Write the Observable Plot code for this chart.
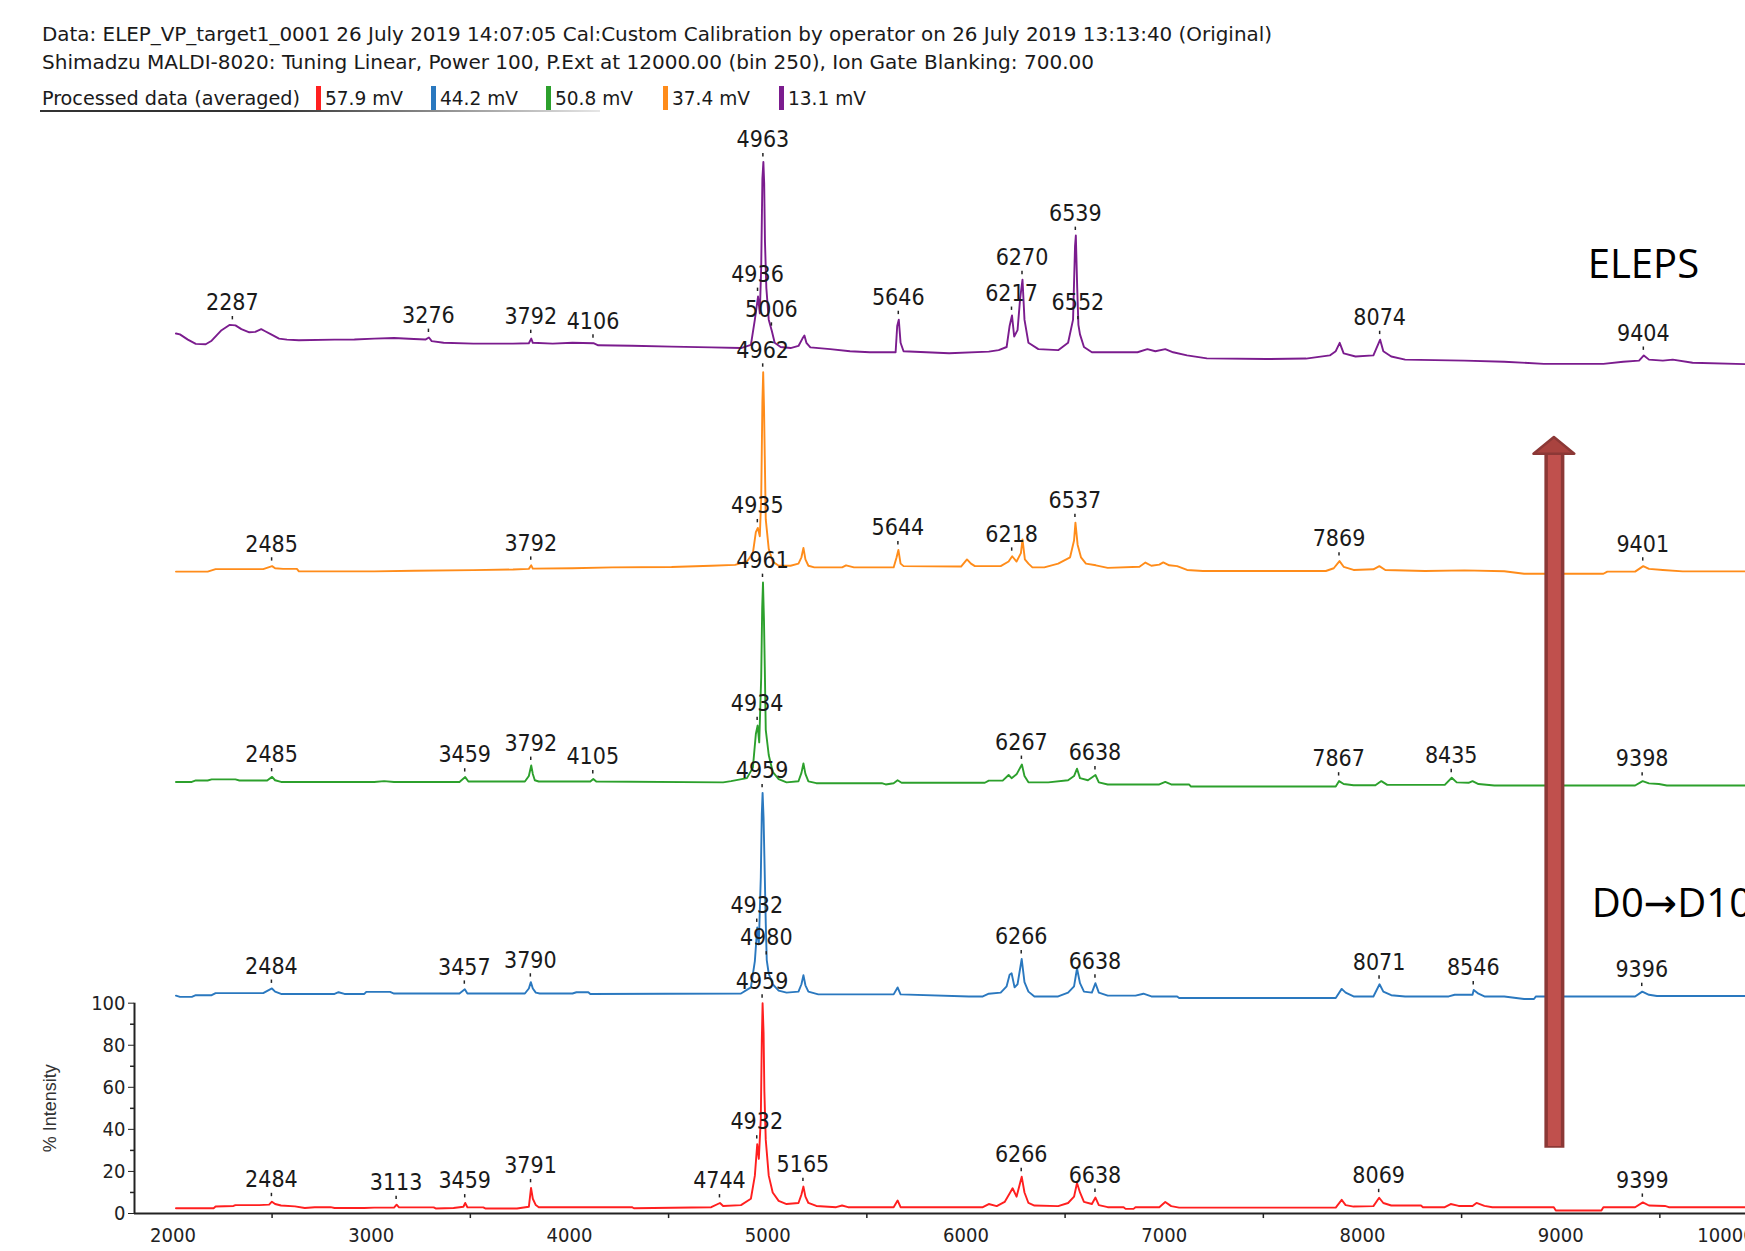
<!DOCTYPE html>
<html><head><meta charset="utf-8">
<script src="https://cdn.jsdelivr.net/npm/d3@7"></script>
<script src="https://cdn.jsdelivr.net/npm/@observablehq/plot@0.6"></script>
<style>
html,body{margin:0;padding:0;background:#fff;}
#wrap{width:1745px;height:1251px;overflow:hidden;position:relative;background:#fff;}
#hdr{position:relative;width:1745px;height:112px;font-family:"DejaVu Sans Condensed","Liberation Sans Narrow","DejaVu Sans",sans-serif;color:#1a1a1a;}
.t{position:absolute;font-size:20px;line-height:24px;white-space:nowrap;transform-origin:0 50%;}
.bar{position:absolute;width:5px;height:24px;top:86px;}
#uline{position:absolute;left:40px;top:110px;width:560px;height:2px;background:linear-gradient(to right,#333 0%,#333 42%,#e6e6e6 100%);}
#chart svg{display:block;overflow:hidden;}
</style></head>
<body><div id="wrap">
<div id="hdr"></div>
<div id="chart"></div>
</div>
<script>
// ---- header texts ----
const titleLine1 = "Data: ELEP_VP_target1_0001 26 July 2019 14:07:05 Cal:Custom Calibration  by operator on 26 July 2019 13:13:40 (Original)";
const titleLine2 = "Shimadzu MALDI-8020: Tuning Linear, Power 100, P.Ext at 12000.00 (bin 250), Ion Gate Blanking: 700.00";
const legendTitle = "Processed data (averaged)";

// ---- series ----
const seriesNames = ["57.9 mV", "44.2 mV", "50.8 mV", "37.4 mV", "13.1 mV"];
const seriesColors = ["#ff1f1f", "#2a78bf", "#2ca02c", "#ff8c1a", "#7b1c8e"];
const offsets = [0, 100, 200, 300, 400];

// ---- axis ticks ----
const xTicks = [2000, 3000, 4000, 5000, 6000, 7000, 8000, 9000];
const xLastTick = [10000];
const xMinorTicks = [2500, 3500, 4500, 5500, 6500, 7500, 8500, 9500];
const yTicks = [0, 20, 40, 60, 80, 100];
const yMinorTicks = [10, 30, 50, 70, 90];

// ---- spectra [m/z, % intensity] ----
const specRed = [[2000,2.5],[2190,2.5],[2200,3.3],[2290,3.6],[2300,4.0],[2420,4.0],[2470,4.2],[2484,5.6],[2500,4.5],[2530,3.8],[2600,3.4],[2650,2.6],[2700,3.0],[2780,3.0],[2800,2.6],[2950,2.6],[3000,2.8],[3100,2.8],[3113,4.2],[3125,2.9],[3300,2.9],[3310,2.4],[3400,2.6],[3450,3.2],[3459,5.0],[3470,3.0],[3550,2.9],[3560,2.4],[3720,2.4],[3780,3.2],[3791,12.2],[3800,7.0],[3815,4.0],[3830,3.0],[4000,3.0],[4300,3.0],[4310,2.5],[4700,3.0],[4744,5.0],[4760,3.6],[4850,4.0],[4900,7.0],[4920,18],[4932,33],[4940,26],[4950,45],[4955,82],[4959,100],[4964,86],[4968,58],[4975,35],[4990,18],[5010,10],[5040,6],[5080,4.5],[5140,5.0],[5155,9.0],[5165,12.8],[5175,8.0],[5190,5.0],[5230,3.6],[5330,3.0],[5360,3.8],[5390,3.0],[5620,3.0],[5640,6.2],[5655,3.0],[6070,3.0],[6100,4.5],[6140,3.5],[6180,5.5],[6205,9.5],[6220,12],[6240,8],[6266,17.5],[6280,10],[6300,5],[6330,3.8],[6450,3.5],[6500,5],[6530,8],[6545,14.5],[6560,10],[6580,5.5],[6620,4.5],[6638,7.6],[6655,4.0],[6700,3.0],[6780,3.0],[6790,2.2],[6830,2.2],[6840,3.0],[6960,3.0],[6990,5.5],[7020,3.5],[7060,2.8],[7850,2.8],[7880,6.5],[7900,4.0],[7940,3.3],[8040,3.5],[8069,7.5],[8090,5.0],[8130,3.8],[8280,3.8],[8290,3.0],[8400,3.0],[8430,4.5],[8470,3.6],[8540,3.6],[8560,5.0],[8600,3.6],[8640,3.0],[8950,3.0],[8960,1.4],[9190,1.4],[9200,3.0],[9360,3.0],[9399,5.3],[9430,3.8],[9510,3.6],[9530,3.0],[9932,3.0]];
const specBlue = [[2000,3.6],[2020,3.0],[2080,3.0],[2100,3.8],[2180,3.8],[2200,4.8],[2440,4.8],[2484,7.0],[2500,5.5],[2530,4.4],[2800,4.4],[2820,5.2],[2850,4.4],[2950,4.4],[2960,5.4],[3080,5.4],[3100,4.6],[3430,4.6],[3457,6.6],[3470,4.6],[3760,4.6],[3780,7.0],[3790,10],[3800,7.0],[3815,5.0],[3835,4.6],[4000,4.6],[4020,5.2],[4080,5.2],[4090,4.4],[4850,4.6],[4900,7.5],[4920,20],[4932,36],[4940,28],[4950,60],[4955,90],[4959,100],[4964,88],[4968,70],[4975,38],[4980,20.5],[4990,14],[5010,9],[5040,6],[5080,5],[5140,5.5],[5155,9],[5165,13.3],[5175,8.5],[5190,5.5],[5240,4.2],[5620,4.2],[5640,7.5],[5655,4.2],[6000,3.2],[6070,3.2],[6100,4.5],[6160,5.0],[6190,8.0],[6205,13.5],[6215,14.2],[6230,7.5],[6245,9.0],[6266,21],[6280,10],[6300,5.5],[6330,3.2],[6450,3.2],[6500,5.0],[6530,8.0],[6545,16.5],[6560,9.5],[6580,5.5],[6620,5.0],[6638,9.5],[6655,5.0],[6700,3.6],[6840,3.6],[6880,4.5],[6920,3.2],[7050,3.2],[7060,2.5],[7850,2.5],[7880,6.8],[7900,5.0],[7940,3.2],[8040,3.2],[8071,9.0],[8090,5.5],[8130,3.8],[8200,3.2],[8420,3.2],[8450,4.0],[8540,4.0],[8546,6.3],[8570,4.5],[8600,3.2],[8700,3.2],[8800,2.0],[8850,2.0],[8860,3.2],[9360,3.2],[9396,5.5],[9430,4.0],[9470,3.4],[9932,3.4]];
const specGreen = [[2000,5.2],[2080,5.2],[2100,5.9],[2160,5.9],[2180,6.4],[2300,6.4],[2320,5.9],[2460,5.9],[2485,7.6],[2500,6.0],[2530,5.2],[3000,5.2],[3050,5.6],[3100,5.2],[3430,5.2],[3459,7.5],[3475,5.4],[3760,5.4],[3780,8.0],[3792,13],[3800,9.0],[3810,6.0],[3830,5.4],[4090,5.4],[4105,6.6],[4120,5.4],[4760,5.0],[4800,5.6],[4880,7.0],[4910,12],[4925,28],[4934,32],[4942,24],[4952,55],[4957,88],[4961,100],[4966,82],[4970,60],[4975,30],[4990,18],[5010,10],[5040,6.5],[5080,5.0],[5140,5.5],[5155,9.5],[5165,14],[5175,9.0],[5190,5.5],[5230,4.6],[5560,4.6],[5580,4.0],[5620,4.6],[5640,6.0],[5660,4.8],[6080,4.8],[6100,5.8],[6170,5.8],[6200,8.5],[6215,7.0],[6240,8.8],[6267,13.5],[6280,8.0],[6300,5.0],[6400,5.0],[6500,6.0],[6530,8.0],[6545,11.5],[6560,7.0],[6600,6.0],[6638,8.5],[6655,5.0],[6700,4.0],[6960,4.0],[6990,5.2],[7020,4.0],[7110,4.0],[7120,3.0],[7850,3.0],[7867,5.6],[7890,4.2],[7940,3.6],[8050,3.6],[8080,5.6],[8110,3.8],[8400,3.8],[8435,7.2],[8460,5.0],[8520,4.8],[8540,5.6],[8570,4.2],[8650,3.5],[9360,3.5],[9398,5.6],[9430,4.5],[9480,4.2],[9520,3.5],[9932,3.5]];
const specOrange = [[2000,5.2],[2160,5.2],[2200,6.4],[2440,6.4],[2485,7.8],[2500,6.8],[2540,6.5],[2610,6.5],[2620,5.3],[3000,5.3],[3200,5.6],[3500,5.9],[3700,6.2],[3780,6.5],[3792,8.2],[3800,6.6],[4000,6.8],[4200,7.2],[4500,7.4],[4700,8.0],[4820,8.4],[4880,10],[4910,14],[4925,24],[4935,26],[4945,22],[4952,40],[4958,86],[4962,100],[4966,84],[4970,60],[4975,30],[4990,16],[5010,10],[5040,8],[5100,8],[5140,9],[5155,12],[5165,16.5],[5175,11],[5190,8],[5220,7.2],[5360,7.2],[5380,8.2],[5420,7.2],[5620,7.2],[5635,12],[5644,15.5],[5655,9],[5670,7.8],[5960,7.6],[5990,11],[6010,9],[6030,7.8],[6160,7.8],[6200,10],[6218,12.5],[6240,10],[6262,14],[6270,20.5],[6282,11],[6300,9],[6320,7.2],[6380,7.2],[6450,9],[6510,12],[6530,20],[6537,28.5],[6548,18],[6565,12],[6590,9],[6640,8.2],[6700,7.0],[6860,7.5],[6890,9.5],[6920,8.0],[6960,8.5],[6980,9.6],[7010,8.2],[7050,7.8],[7100,6.0],[7180,5.5],[7800,5.5],[7840,6.8],[7869,10.2],[7890,7.5],[7940,6.0],[8040,6.3],[8070,7.8],[8100,6.0],[8300,5.5],[8500,5.8],[8700,5.4],[8800,4.2],[9200,4.2],[9220,5.2],[9360,5.2],[9401,7.8],[9430,6.5],[9500,6.0],[9600,5.3],[9932,5.3]];
const specPurple = [[2000,18.4],[2020,18],[2060,15.5],[2100,13.5],[2150,13.3],[2180,15],[2230,20],[2270,22.5],[2300,22.3],[2330,20.5],[2370,19],[2400,19.2],[2430,20.5],[2450,19.5],[2480,18],[2520,16],[2560,15.5],[2620,15.2],[2800,15.5],[2900,15.6],[3000,16.0],[3100,16.3],[3200,15.8],[3260,15.6],[3276,16.5],[3290,14.8],[3350,14.0],[3500,13.6],[3700,13.6],[3780,13.8],[3792,16.0],[3800,14],[3900,13.6],[4000,14],[4106,13.8],[4130,12.8],[4300,12.6],[4500,12.2],[4700,11.8],[4850,11.5],[4900,13],[4920,25],[4936,36],[4945,28],[4952,50],[4958,92],[4963,100],[4967,90],[4971,62],[4978,40],[4990,25],[5006,19.5],[5020,14],[5050,12],[5100,11.5],[5140,12.5],[5160,16],[5170,17.5],[5180,14],[5200,11.8],[5300,11],[5400,10],[5500,9.5],[5630,9.5],[5638,22],[5646,25],[5655,14],[5670,10],[5900,9.0],[6100,9.8],[6150,10.5],[6190,12],[6205,22],[6217,27],[6228,17],[6245,20],[6258,35],[6270,44],[6280,25],[6300,14],[6350,11],[6450,10.5],[6500,14],[6525,25],[6535,60],[6539,65],[6546,40],[6552,22.5],[6560,18],[6580,12],[6620,9.5],[6850,9.5],[6900,11],[6940,10],[6990,11],[7030,9.5],[7100,8],[7200,6.6],[7500,6.3],[7700,6.5],[7820,8],[7850,10],[7870,14],[7890,9],[7950,7.5],[8040,8],[8074,15.5],[8090,10],[8130,7.5],[8200,6.0],[8500,5.5],[8700,5.0],[8900,4.0],[9200,4.0],[9300,5.0],[9380,5.5],[9404,8.0],[9430,6.0],[9500,5.5],[9550,6],[9650,4.5],[9932,3.8]];

// ---- labelled peaks [m/z, % intensity] ----
const peaksRed = [[2484,5.6],[3113,4.2],[3459,5.0],[3791,12.2],[4744,5.0],[4932,33],[4959,100],[5165,12.8],[6266,17.5],[6638,7.6],[8069,7.5],[9399,5.3]];
const peaksBlue = [[2484,7.0],[3457,6.6],[3790,10],[4932,36],[4980,20.5],[4959,100],[6266,21],[6638,9.5],[8071,9.0],[8546,6.3],[9396,5.5]];
const peaksGreen = [[2485,7.6],[3459,7.5],[3792,13],[4105,6.6],[4934,32],[4961,100],[6267,13.5],[6638,8.5],[7867,5.6],[8435,7.2],[9398,5.6]];
const peaksOrange = [[2485,7.8],[3792,8.2],[4935,26],[4962,100],[5644,15.5],[6218,12.5],[6537,28.5],[7869,10.2],[9401,7.8]];
const peaksPurple = [[2287,22.5],[3276,16.5],[3792,16.0],[4106,13.8],[4936,36],[4963,100],[5006,19.5],[5646,25],[6217,27],[6270,44],[6539,65],[6552,22.5],[8074,15.5],[9404,8.0]];

// ---- annotations ----
const arrowNote = {x: 8968, base: 31, neck: 361, tip: 369, halfWidth: 103};
const noteEleps = {text: "ELEPS", x: 9417, y: 451};
const noteDays = {text: "D0\u2192D10", x: 9157, y: 147};
const yAxisTitle = {text: "% Intensity", x: 1382, y: 50};

// ---------------- header ----------------
const hdr = document.getElementById("hdr");
function addText(txt, left, top, target) {
  const s = document.createElement("div");
  s.className = "t"; s.textContent = txt;
  s.style.left = left + "px"; s.style.top = top + "px";
  hdr.appendChild(s);
  const w = s.getBoundingClientRect().width;
  if (target && w > 0) s.style.transform = `scaleX(${target / w})`;
  return s;
}
addText(titleLine1, 42, 22, 1230);
addText(titleLine2, 42, 50, 1052);
addText(legendTitle, 42, 86, 258);
const legendBarX = [316, 431, 546, 663, 779];
seriesNames.forEach((n, i) => {
  const b = document.createElement("div");
  b.className = "bar"; b.style.left = legendBarX[i] + "px"; b.style.background = seriesColors[i];
  hdr.appendChild(b);
  addText(n, legendBarX[i] + 9, 86, 78);
});
const ul = document.createElement("div"); ul.id = "uline"; hdr.appendChild(ul);

// ---------------- chart ----------------
const specs = [specRed, specBlue, specGreen, specOrange, specPurple];
const peaks = [peaksRed, peaksBlue, peaksGreen, peaksOrange, peaksPurple];
const lineData = specs.map((s, i) => s.map(([mz, v]) => ({mz, y: v + offsets[i]})));
const labelData = peaks.flatMap((p, i) => p.map(([mz, v]) => ({mz, y: v + offsets[i], text: String(mz)})));

const FONT = '"DejaVu Sans Condensed","Liberation Sans Narrow","DejaVu Sans",sans-serif';
const arrowHead = [
  {x: arrowNote.x - arrowNote.halfWidth, y1: arrowNote.neck, y2: arrowNote.neck},
  {x: arrowNote.x, y1: arrowNote.neck, y2: arrowNote.tip},
  {x: arrowNote.x + arrowNote.halfWidth, y1: arrowNote.neck, y2: arrowNote.neck}
];

const chart = Plot.plot({
  width: 1745, height: 1139,
  marginLeft: 134, marginRight: 0, marginTop: 0, marginBottom: 38,
  style: {fontFamily: FONT, fontSize: "20px", color: "#222", background: "#fff", overflow: "hidden"},
  x: {domain: [1806, 9932], ticks: xTicks, tickSize: 0, tickPadding: 14, tickFormat: d => String(d), label: null},
  y: {domain: [0, 523.5], ticks: yTicks, tickSize: 6, tickPadding: 3, tickFormat: d => String(d), label: null},
  marks: [
    Plot.ruleX(xMinorTicks, {y1: 0, y2: -2.4, stroke: "#222", strokeWidth: 1.5}),
    Plot.ruleY(yMinorTicks, {x1: 1806, x2: 1786, stroke: "#222", strokeWidth: 1.5}),
    Plot.ruleY([0], {stroke: "#222", strokeWidth: 2}),
    Plot.ruleX([1806], {y1: 0, y2: 100, stroke: "#222", strokeWidth: 2}),
    Plot.text(xLastTick, {x: d => d, y: 0, text: d => String(d), dy: 22, dx: -33, fontSize: 20, fill: "#222"}),
    ...lineData.map((d, i) => Plot.line(d, {x: "mz", y: "y", stroke: seriesColors[i], strokeWidth: 1.9, dx: 3})),
    Plot.ruleX(labelData, {x: "mz", y1: d => d.y + 2.4, y2: d => d.y + 4.0, stroke: "#222", strokeWidth: 1.5, dx: 2.5}),
    Plot.text(labelData, {x: "mz", y: "y", text: "text", dy: -22, dx: 2.5, fontSize: 23, fontFamily: FONT, fill: "#1a1a1a"}),
    Plot.ruleX([arrowNote], {x: "x", y1: "base", y2: "neck", stroke: "#8c3836", strokeWidth: 20}),
    Plot.ruleX([arrowNote], {x: "x", y1: d => d.base + 0.8, y2: "neck", stroke: "#c0504d", strokeWidth: 13}),
    Plot.areaY(arrowHead, {x: "x", y1: "y1", y2: "y2", fill: "#a9433f", stroke: "#8c3836", strokeWidth: 2.5}),
    Plot.text([noteEleps], {x: "x", y: "y", text: "text", fontSize: 40, fontFamily: '"Open Sans",sans-serif', fill: "#000"}),
    Plot.text([noteDays], {x: "x", y: "y", text: "text", textAnchor: "start", fontSize: 40, fontFamily: '"Open Sans","DejaVu Sans",sans-serif', fill: "#000"}),
    Plot.text([yAxisTitle], {x: "x", y: "y", text: "text", rotate: -90, fontSize: 18, fontFamily: '"Liberation Sans",sans-serif', fill: "#333"})
  ]
});
document.getElementById("chart").appendChild(chart);
</script>
</body></html>
